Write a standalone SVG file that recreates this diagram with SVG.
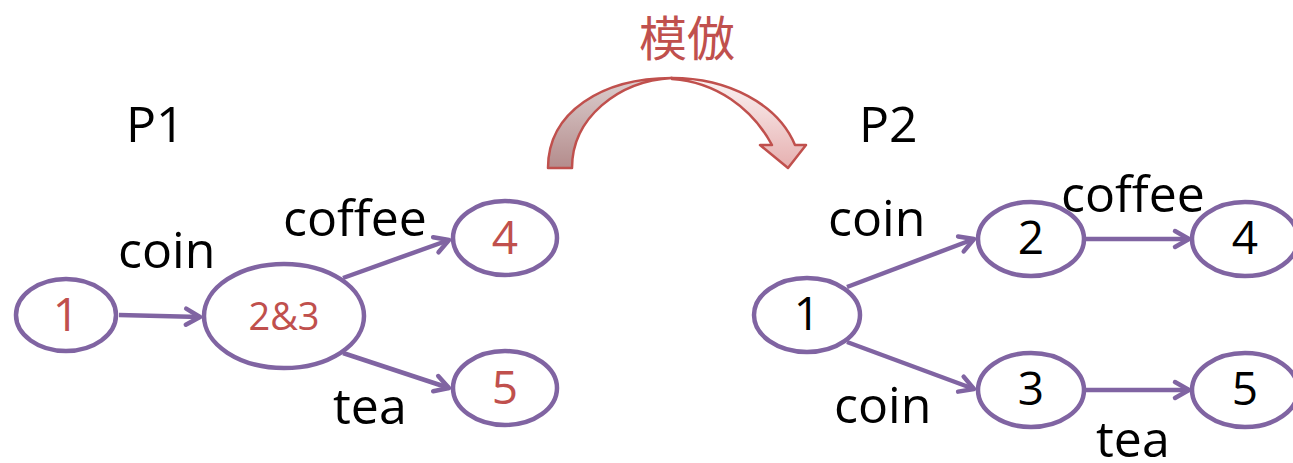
<svg xmlns="http://www.w3.org/2000/svg" width="1293" height="463" viewBox="0 0 1293 463">
  <style>
    .node { fill: #ffffff; stroke: #8064a2; stroke-width: 4.5; }
    .edge { fill: none; stroke: #8064a2; stroke-width: 4.5; marker-end: url(#arrow); }
    .lbl { font-family: "Open Sans", "Noto Sans", sans-serif; font-size: 50px; fill: #000000; }
    .num { font-family: "Open Sans", "Noto Sans", sans-serif; font-size: 46px; text-anchor: middle; }
    .red { fill: #c0504d; }
    .blk { fill: #000000; }
    .title { font-family: "Noto Sans CJK JP", "Noto Sans CJK SC", sans-serif; font-size: 48px; fill: #c0504d; }
  </style>
  <defs>
    <marker id="arrow" markerUnits="userSpaceOnUse" markerWidth="30" markerHeight="30" refX="0" refY="0" viewBox="-18 -15 22 30" orient="auto" overflow="visible">
      <path d="M -14,-8 L 0,0 L -14,8" fill="none" stroke="#8064a2" stroke-width="4.5" stroke-linecap="round" stroke-linejoin="round"/>
    </marker>
    <linearGradient id="backBand" x1="0" y1="0" x2="0" y2="1">
      <stop offset="0" stop-color="#dccfcf"/>
      <stop offset="1" stop-color="#b48c8c"/>
    </linearGradient>
    <linearGradient id="frontBand" x1="0" y1="0" x2="0" y2="1">
      <stop offset="0" stop-color="#fbf3f3"/>
      <stop offset="1" stop-color="#e6b0b0"/>
    </linearGradient>
  </defs>

  <!-- title and curved arrow between the two graphs -->
  <text class="title" x="639" y="56">模倣</text>
  <g id="curved-arrow" stroke="#c0504d" stroke-width="2.5" stroke-linejoin="round">
    <path d="M 548,168 C 548,112 602,78 672,78 C 618,81 572,118 572,168 Z" fill="url(#backBand)"/>
    <path d="M 672,78 C 728,78 778,104 795,145 L 806,145 L 788,168 L 760,145 L 772,145 C 752,108 716,82 672,79 Z" fill="url(#frontBand)"/>
  </g>

  <!-- graph captions -->
  <text class="lbl" x="126" y="142">P1</text>
  <text class="lbl" x="859" y="142">P2</text>

  <!-- connectors -->
  <g id="connectors">
    <line class="edge" x1="119" y1="315" x2="200" y2="317"/>
    <line class="edge" x1="343" y1="278" x2="449" y2="240"/>
    <line class="edge" x1="343" y1="353" x2="449" y2="388"/>
    <line class="edge" x1="847" y1="287" x2="974" y2="239"/>
    <line class="edge" x1="847" y1="342" x2="974" y2="389"/>
    <line class="edge" x1="1085" y1="239" x2="1189" y2="239"/>
    <line class="edge" x1="1085" y1="390" x2="1189" y2="390"/>
  </g>

  <!-- edge labels -->
  <g id="edge-labels">
    <text class="lbl" x="118" y="268">coin</text>
    <text class="lbl" x="283" y="236">coffee</text>
    <text class="lbl" x="333" y="424">tea</text>
    <text class="lbl" x="828" y="236">coin</text>
    <text class="lbl" x="1061" y="212">coffee</text>
    <text class="lbl" x="834" y="423">coin</text>
    <text class="lbl" x="1096" y="457">tea</text>
  </g>

  <!-- P1 states -->
  <g id="p1-s1">
    <ellipse class="node" cx="66" cy="315" rx="50" ry="36"/>
    <text class="num red" x="66" y="331">1</text>
  </g>
  <g id="p1-s23">
    <ellipse class="node" cx="284" cy="316" rx="80" ry="52"/>
    <text class="num red" x="284" y="330" style="font-size:38px">2&amp;3</text>
  </g>
  <g id="p1-s4">
    <ellipse class="node" cx="505" cy="238" rx="52" ry="37"/>
    <text class="num red" x="505" y="254">4</text>
  </g>
  <g id="p1-s5">
    <ellipse class="node" cx="505" cy="388" rx="52" ry="37"/>
    <text class="num red" x="505" y="404">5</text>
  </g>

  <!-- P2 states -->
  <g id="p2-s1">
    <ellipse class="node" cx="807" cy="315" rx="53" ry="37"/>
    <text class="num blk" x="807" y="330">1</text>
  </g>
  <g id="p2-s2">
    <ellipse class="node" cx="1031" cy="239" rx="53" ry="37"/>
    <text class="num blk" x="1031" y="254">2</text>
  </g>
  <g id="p2-s3">
    <ellipse class="node" cx="1031" cy="390" rx="53" ry="37"/>
    <text class="num blk" x="1031" y="405">3</text>
  </g>
  <g id="p2-s4">
    <ellipse class="node" cx="1245" cy="239" rx="53" ry="37"/>
    <text class="num blk" x="1245" y="254">4</text>
  </g>
  <g id="p2-s5">
    <ellipse class="node" cx="1245" cy="390" rx="53" ry="37"/>
    <text class="num blk" x="1245" y="405">5</text>
  </g>
</svg>
